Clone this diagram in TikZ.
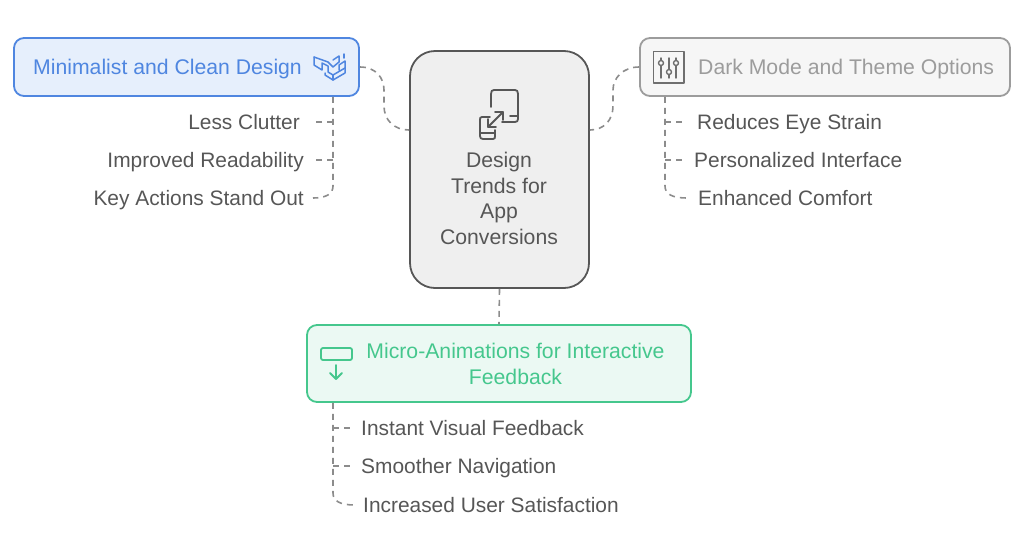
\documentclass[tikz,border=0pt]{standalone}
\usepackage{fontspec}
\setmainfont{Liberation Sans}
\usetikzlibrary{positioning}

\definecolor{bluefg}{HTML}{4F86E0}
\definecolor{bluebg}{HTML}{E6EFFC}
\definecolor{grayfg}{HTML}{9C9C9C}
\definecolor{graybg}{HTML}{F6F6F6}
\definecolor{greenfg}{HTML}{45C78D}
\definecolor{greenbg}{HTML}{EBF9F3}
\definecolor{darkfg}{HTML}{565656}
\definecolor{hubbg}{HTML}{EFEFEF}
\definecolor{linkfg}{HTML}{8C8C8C}

\tikzset{
  card/.style={draw,rounded corners=10pt,line width=1.8pt,inner sep=0pt},
  sub/.style={text=darkfg,inner sep=0pt,text height=18pt,text depth=4pt,font=\fontsize{20.9}{24}\selectfont},
  title/.style={inner sep=0pt,font=\fontsize{21.2}{25.5}\selectfont},
  link/.style={draw=linkfg,line width=1.6pt,dash pattern=on 6pt off 5pt},
  icon/.style={line width=1.8pt,line cap=round,line join=round}
}

\begin{document}
\begin{tikzpicture}[x=1pt,y=-1pt]
\useasboundingbox (0,0) rectangle (1024,555);

% cards
\node [card,draw=darkfg,fill=hubbg,rounded corners=25pt,minimum width=179pt,minimum height=237pt] (hub) at (499.5,169.5) {};
\node [card,draw=bluefg,fill=bluebg,minimum width=345pt,minimum height=58pt] (blue) at (186.5,67) {};
\node [card,draw=grayfg,fill=graybg,minimum width=370pt,minimum height=58pt] (gray) at (825,67) {};
\node [card,draw=greenfg,fill=greenbg,minimum width=384pt,minimum height=77pt] (green) at (499,363.5) {};

% titles
\node [title,text=darkfg,align=center] (hubtext) at (499,198.5) {Design\\Trends for\\App\\Conversions};
\node [title,text=bluefg,anchor=west,text height=18pt,text depth=4pt] (bluetext) at (33,67) {Minimalist and Clean Design};
\node [title,text=grayfg,anchor=west,text height=18pt,text depth=4pt] (graytext) at (698,67) {Dark Mode and Theme Options};
\node [title,text=greenfg,align=center] (greentext) at (515.5,364) {Micro-Animations for Interactive\\Feedback};

% lists
\foreach \i / \element / \x / \tipx / \y in {1/{Less Clutter}/300/314/122,2/{Improved Readability}/304/314/160,3/{Key Actions Stand Out}/304/313/198}
{
  \node [sub,anchor=east] (bluesub\i) at (\x,\y) {\element};
  \coordinate (bluejoin\i) at (333,\y);
  \coordinate (bluetip\i) at (\tipx,\y);
}
\foreach \i / \element / \x / \tipx / \y in {1/{Reduces Eye Strain}/697/685/122,2/{Personalized Interface}/694/685/160,3/{Enhanced Comfort}/698/687/198}
{
  \node [sub,anchor=west] (graysub\i) at (\x,\y) {\element};
  \coordinate (grayjoin\i) at (665,\y);
  \coordinate (graytip\i) at (\tipx,\y);
}
\foreach \i / \element / \x / \tipx / \y in {1/{Instant Visual Feedback}/361/353/428,2/{Smoother Navigation}/361/353/466,3/{Increased User Satisfaction}/363/355/505}
{
  \node [sub,anchor=west] (greensub\i) at (\x,\y) {\element};
  \coordinate (greenjoin\i) at (333,\y);
  \coordinate (greentip\i) at (\tipx,\y);
}

% hub to cards
\coordinate (hubleft) at (hub.west |- 0,130);
\coordinate (hubright) at (hub.east |- 0,130);
\draw [link] (blue.east) .. controls (376,67) and (384,78) .. (384,90) -- (384,106) .. controls (384,120) and (394,130) .. (hubleft);
\draw [link] (gray.west) .. controls (623,67) and (613,78) .. (613,90) -- (613,106) .. controls (613,120) and (604,130) .. (hubright);
\draw [link] (hub.south) -- (green.north);

% spines
\coordinate (bluefoot) at (blue.south -| bluejoin1);
\coordinate (grayfoot) at (gray.south -| grayjoin1);
\coordinate (greenfoot) at (green.south -| greenjoin1);
\draw [link] (bluefoot) -- (333,186) .. controls (333,194) and (326,198) .. (bluetip3);
\draw [link] (grayfoot) -- (665,186) .. controls (665,194) and (672,198) .. (graytip3);
\draw [link] (greenfoot) -- (333,493) .. controls (333,501) and (340,505) .. (greentip3);
\foreach \i in {1,2}
{
  \draw [link] (bluejoin\i) -- (bluetip\i);
  \draw [link] (grayjoin\i) -- (graytip\i);
  \draw [link] (greenjoin\i) -- (greentip\i);
}

% hub icon
\draw [icon,draw=darkfg] (491,107) -- (491,94) .. controls (491,91) and (492,90) .. (494,90) -- (515,90) .. controls (517,90) and (518,91) .. (518,94) -- (518,119) .. controls (518,121) and (517,122) .. (515,122) -- (502,122);
\draw [icon,draw=darkfg] (510,116) -- (518,116);
\draw [icon,draw=darkfg] (490,117) -- (482,117) .. controls (480,117) and (480,118) .. (480,120) -- (480,136) .. controls (480,138) and (481,139) .. (483,139) -- (493,139) .. controls (495,139) and (495,138) .. (495,136) -- (495,130);
\draw [icon,draw=darkfg] (480,133) -- (495,133);
\draw [icon,draw=darkfg] (488,127) -- (503,112);
\draw [icon,draw=darkfg] (495,112) -- (503,112) -- (503,120);
\draw [icon,draw=darkfg] (488,119) -- (488,127) -- (496,127);

% sliders icon
\draw [icon,draw=darkfg!85,line width=1.6pt] (653.5,51.5) rectangle (684,83);
\foreach \x / \y in {661/63,669/72,676/63}
{
  \draw [icon,draw=darkfg!85,line width=1.4pt] (\x,58) -- (\x,\y-2.5);
  \draw [icon,draw=darkfg!85,line width=1.4pt] (\x,\y+2.5) -- (\x,78);
  \draw [icon,draw=darkfg!85,line width=1.4pt] (\x,\y) circle (2.5pt);
}

% arrow icon
\draw [icon,draw=greenfg,rounded corners=2pt] (321,348) rectangle (352,360);
\draw [icon,draw=greenfg] (336,365) -- (336,379);
\draw [icon,draw=greenfg] (330,373) -- (336,379) -- (342,373);

% logo icon
\draw [icon,draw=bluefg,line width=1.5pt] (314,57) -- (328,62) -- (333,67) -- (339,62) -- (339,56) -- (333,60);
\draw [icon,draw=bluefg,line width=1.5pt] (314,57) -- (314,65) -- (322,70) -- (322,63) -- (328,66) -- (328,72) -- (333,75) -- (345,68) -- (345,61) -- (339,65) -- (339,70);
\draw [icon,draw=bluefg,line width=1.5pt] (325,73) -- (325,75) -- (333,80) -- (345,73) -- (345,68);
\draw [icon,draw=bluefg,line width=1.5pt] (333,75) -- (333,80);
\draw [icon,draw=bluefg,line width=1.5pt] (344,54) -- (344,58);
\end{tikzpicture}
\end{document}
